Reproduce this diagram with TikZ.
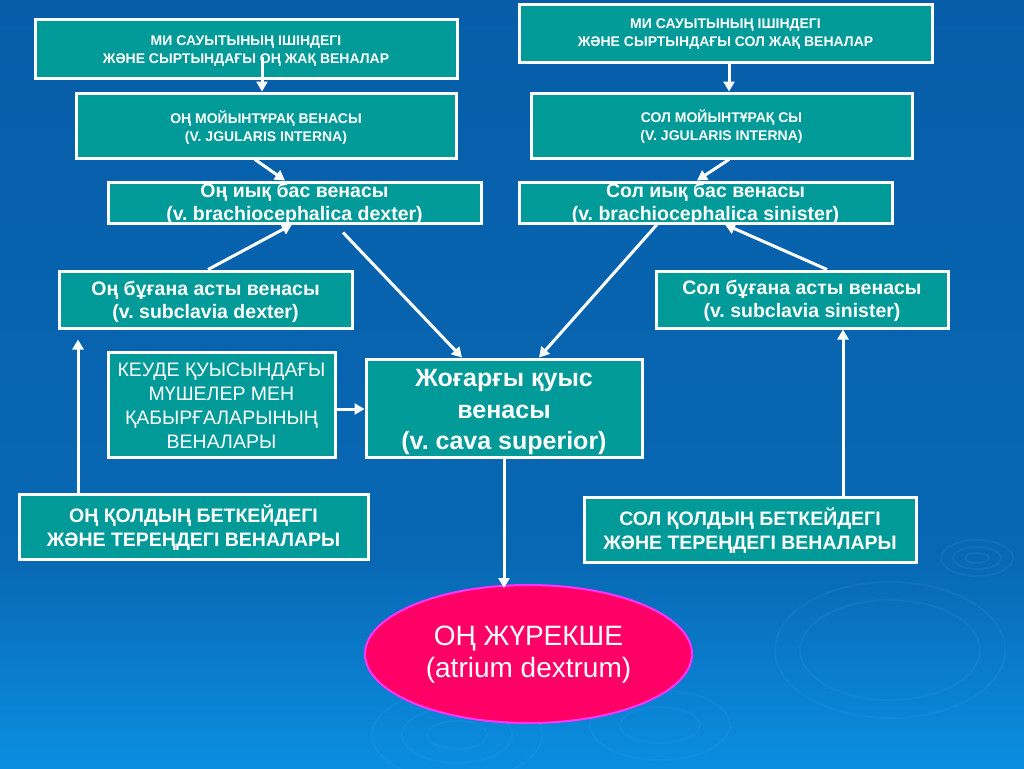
\documentclass[tikz,border=0pt]{standalone}
\usepackage{fontspec}
\setmainfont{Liberation Sans}
\usetikzlibrary{arrows.meta,shapes.geometric,calc}
\definecolor{boxteal}{HTML}{009A99}
\definecolor{bgtop}{HTML}{075DA8}
\definecolor{bgmid}{HTML}{0868B4}
\definecolor{bgbot}{HTML}{0A8EE0}
\definecolor{heartfill}{HTML}{FF0066}
\definecolor{heartline}{HTML}{FF33FF}
\definecolor{ripple}{HTML}{4FB0FF}
\newcommand\fntTop{\fontsize{14}{18}\selectfont\bfseries}
\newcommand\fntMid{\fontsize{19.5}{23}\selectfont\bfseries}
\newcommand\fntReg{\fontsize{19.5}{24}\selectfont}
\newcommand\fntBig{\fontsize{25}{31.5}\selectfont\bfseries}
\newcommand\fntLow{\fontsize{19.5}{23.5}\selectfont\bfseries}
\newcommand\fntHeart{\fontsize{28}{32}\selectfont}
\frenchspacing
\begin{document}
\begin{tikzpicture}[x=1pt,y=-1pt,
  box/.style={draw=white, line width=3pt, fill=boxteal, inner sep=0pt},
  txt/.style={text=white, align=center, inner sep=0pt},
  conn/.style={draw=white, line width=3pt, -{Triangle[width=11pt,length=10pt]}},
  rip/.style={draw=ripple, opacity=0.1, line width=2pt}]
\useasboundingbox (0,0) rectangle (1024,768);
\shade[top color=bgtop, bottom color=bgmid] (0,0) rectangle (1024,560);
\shade[top color=bgmid, bottom color=bgbot] (0,560) rectangle (1024,768);
% decorative ripples
\draw[rip] (977,558) ellipse [x radius=12, y radius=5];
\draw[rip] (977,558) ellipse [x radius=24, y radius=11];
\draw[rip] (977,558) ellipse [x radius=36, y radius=18];
\draw[rip] (890,650) ellipse [x radius=90, y radius=50];
\draw[rip] (890,650) ellipse [x radius=115, y radius=68];
\draw[rip] (457,735) ellipse [x radius=30, y radius=14];
\draw[rip] (457,735) ellipse [x radius=55, y radius=28];
\draw[rip] (457,735) ellipse [x radius=85, y radius=45];
\draw[rip] (660,725) ellipse [x radius=40, y radius=18];
\draw[rip] (660,725) ellipse [x radius=70, y radius=35];
% boxes
\node[box, minimum width=422pt, minimum height=58pt] (b1) at (246,49) {};
\node[txt, font=\fntTop] (t1) at ([yshift=-2pt]b1.center) {МИ САУЫТЫНЫҢ ІШІНДЕГІ\\ЖӘНЕ СЫРТЫНДАҒЫ ОҢ ЖАҚ ВЕНАЛАР};
\node[box, minimum width=380pt, minimum height=65pt] (b2) at (266,125.5) {};
\node[txt, font=\fntTop] (t2) at ([yshift=-2pt]b2.center) {ОҢ МОЙЫНТҰРАҚ ВЕНАСЫ\\(V. JGULARIS INTERNA)};
\node[box, minimum width=373pt, minimum height=41pt] (b3) at (294.5,202.5) {};
\node[txt, font=\fntMid] (t3) at ([yshift=-1pt]b3.center) {Оң иық бас венасы\\(v. brachiocephalica dexter)};
\node[box, minimum width=413pt, minimum height=57pt] (b4) at (725.5,33.5) {};
\node[txt, font=\fntTop] (t4) at ([yshift=-0.5pt]b4.center) {МИ САУЫТЫНЫҢ ІШІНДЕГІ\\ЖӘНЕ СЫРТЫНДАҒЫ СОЛ ЖАҚ ВЕНАЛАР};
\node[box, minimum width=381pt, minimum height=65pt] (b5) at (721.5,125.5) {};
\node[txt, font=\fntTop] (t5) at ([yshift=-1pt]b5.center) {СОЛ МОЙЫНТҰРАҚ СЫ\\(V. JGULARIS INTERNA)};
\node[box, minimum width=373pt, minimum height=41pt] (b6) at (705.5,202.5) {};
\node[txt, font=\fntMid] (t6) at ([yshift=-1pt]b6.center) {Сол иық бас венасы\\(v. brachiocephalica sinister)};
\node[box, minimum width=293pt, minimum height=57pt] (b7) at (205.5,299.5) {};
\node[txt, font=\fntMid] (t7) at ([yshift=-2pt]b7.center) {Оң бұғана асты венасы\\(v. subclavia dexter)};
\node[box, minimum width=227pt, minimum height=105pt] (b8) at (221.5,404.5) {};
\node[txt, font=\fntReg] (t8) at ([yshift=-1.5pt]b8.center) {КЕУДЕ ҚУЫСЫНДАҒЫ\\МҮШЕЛЕР МЕН\\ҚАБЫРҒАЛАРЫНЫҢ\\ВЕНАЛАРЫ};
\node[box, minimum width=276pt, minimum height=98pt] (b9) at (504,408) {};
\node[txt, font=\fntBig] (t9) at ([yshift=-4pt]b9.center) {Жоғарғы қуыс\\венасы\\(v. cava superior)};
\node[box, minimum width=292pt, minimum height=57pt] (b10) at (802,299.5) {};
\node[txt, font=\fntMid] (t10) at ([yshift=-1.5pt]b10.center) {Сол бұғана асты венасы\\(v. subclavia sinister)};
\node[box, minimum width=332pt, minimum height=65pt] (b11) at (750,529.5) {};
\node[txt, font=\fntLow] (t11) at ([yshift=-1pt]b11.center) {СОЛ ҚОЛДЫҢ БЕТКЕЙДЕГІ\\ЖӘНЕ ТЕРЕҢДЕГІ ВЕНАЛАРЫ};
\node[box, minimum width=349pt, minimum height=65pt] (b12) at (193.5,526.5) {};
\node[txt, font=\fntLow] (t12) at ([yshift=-1pt]b12.center) {ОҢ ҚОЛДЫҢ БЕТКЕЙДЕГІ\\ЖӘНЕ ТЕРЕҢДЕГІ ВЕНАЛАРЫ};
% heart
\node[ellipse, draw=heartline, line width=2pt, fill=heartfill, inner sep=0pt,
      minimum width=327pt, minimum height=138pt] (ell) at (528.5,654) {};
\node[txt, font=\fntHeart] (tell) at ([yshift=-1pt]ell.center) {ОҢ ЖҮРЕКШЕ\\(atrium dextrum)};
% connectors
\path (b9.south |- ell.north) coordinate (e9);
\coordinate (e12) at ([xshift=-127.5pt,yshift=-10pt]b7.south);
\draw[conn] ([xshift=16pt,yshift=-8pt]b1.center) -- ([xshift=-4pt]b2.north);
\draw[conn] ([xshift=-11pt]b2.south) -- ([xshift=-9.5pt]b3.north);
\draw[conn] ([xshift=3.5pt]b4.south) -- ([xshift=7.5pt]b5.north);
\draw[conn] ([xshift=7.5pt]b5.south) -- ([xshift=-8.5pt]b6.north);
\draw[conn] ([xshift=2.5pt]b7.north) -- ([xshift=-2.5pt]b3.south);
\draw[conn] ([xshift=48.5pt,yshift=-8pt]b3.south) -- ([xshift=-42pt]b9.north);
\draw[conn] ([xshift=-48.5pt]b6.south) -- ([xshift=35pt]b9.north);
\draw[conn] ([xshift=25pt]b10.north) -- ([xshift=19.5pt]b6.south);
\draw[conn] ([xshift=-115.5pt]b12.north) -- (e12);
\draw[conn] ([xshift=93pt]b11.north) -- ([xshift=41pt]b10.south);
\draw[conn] ([yshift=-4.5pt]b8.east) -- ([yshift=-1pt]b9.west);
\draw[conn] (b9.south) -- ([yshift=-4pt]e9);
\end{tikzpicture}
\end{document}
